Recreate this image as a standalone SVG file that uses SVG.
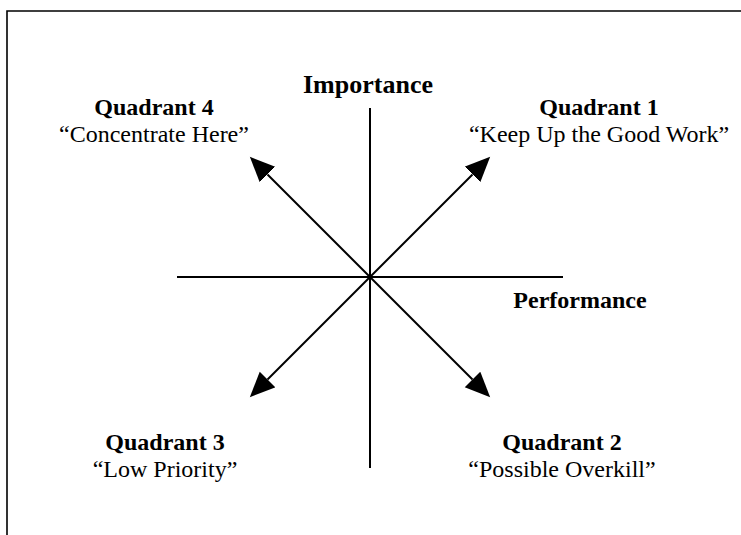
<svg xmlns="http://www.w3.org/2000/svg" width="741" height="535" viewBox="0 0 741 535">
  <style>
    .frame { fill: none; stroke: #000; stroke-width: 1.6; }
    .axis { stroke: #000; stroke-width: 2; fill: none; }
    .diag { stroke: #000; stroke-width: 2; fill: none; }
    .title { font-family: "Liberation Serif", "Times New Roman", serif; font-weight: bold; font-size: 24px; fill: #000; text-anchor: middle; }
    .sub { font-family: "Liberation Serif", "Times New Roman", serif; font-size: 24px; fill: #000; text-anchor: middle; }
  </style>
  <defs>
    <marker id="head" markerUnits="userSpaceOnUse" markerWidth="26" markerHeight="24" refX="0" refY="11" orient="auto">
      <path d="M0,0 L25,11 L0,22 z" fill="#000"/>
    </marker>
  </defs>

  <rect width="741" height="535" fill="#fff"/>

  <!-- page frame (open on the right and bottom) -->
  <path class="frame" d="M741,11 H7 V535"/>

  <!-- axes and arrows -->
  <g id="connectors">
    <line class="axis" x1="370" y1="108" x2="370" y2="468"/>
    <line class="axis" x1="177" y1="277" x2="563" y2="277"/>
    <line class="diag" x1="370" y1="277" x2="472.5" y2="174.5" marker-end="url(#head)"/>
    <line class="diag" x1="370" y1="277" x2="267.5" y2="174.5" marker-end="url(#head)"/>
    <line class="diag" x1="370" y1="277" x2="267.5" y2="379.5" marker-end="url(#head)"/>
    <line class="diag" x1="370" y1="277" x2="472.5" y2="379.5" marker-end="url(#head)"/>
  </g>

  <g id="axis-importance">
    <text class="title" x="368" y="93" style="font-size:26px">Importance</text>
  </g>
  <g id="axis-performance">
    <text class="title" x="580" y="308">Performance</text>
  </g>

  <g id="quadrant-1">
    <text class="title" x="599" y="115">Quadrant 1</text>
    <text class="sub" x="599" y="142">“Keep Up the Good Work”</text>
  </g>
  <g id="quadrant-4">
    <text class="title" x="154" y="115">Quadrant 4</text>
    <text class="sub" x="154" y="142">“Concentrate Here”</text>
  </g>
  <g id="quadrant-3">
    <text class="title" x="165" y="450">Quadrant 3</text>
    <text class="sub" x="165" y="477">“Low Priority”</text>
  </g>
  <g id="quadrant-2">
    <text class="title" x="562" y="450">Quadrant 2</text>
    <text class="sub" x="562" y="477">“Possible Overkill”</text>
  </g>
</svg>
